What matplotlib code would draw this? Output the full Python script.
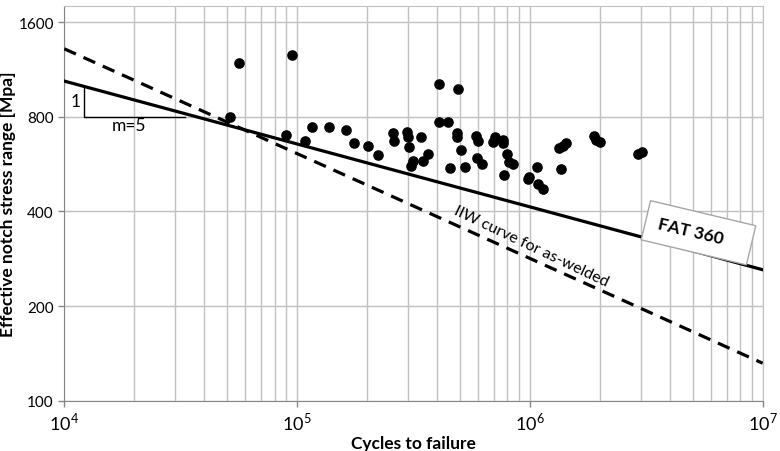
import numpy as np
import matplotlib.pyplot as plt

plt.rcParams['font.family'] = ['Lato', 'DejaVu Sans']
plt.rcParams['mathtext.fontset'] = 'custom'
plt.rcParams['mathtext.rm'] = 'Lato'

# test results: cycles to failure and effective notch stress range [MPa]
cycles = [56290, 95370, 51490, 89860, 107800, 116200, 137100, 162200, 176100,
          201100, 221900, 258900, 260700, 297500, 299500, 339600, 303400,
          315600, 308600, 363900, 348500, 406900, 443700, 408100, 489700,
          487700, 484900, 504400, 455000, 524800, 586800, 596800, 594400,
          620900, 708300, 696500, 764100, 768600, 794900, 815600, 848500,
          777800, 1069600, 978600, 994100, 1080000, 1142000, 1360000,
          1334000, 1383000, 1429000, 1891000, 1923000, 2000000, 2922000,
          3022000]
stress = [1190, 1258, 800, 698, 669, 741, 741, 725, 658, 645, 605, 710, 671,
          718, 688, 689, 639, 579, 559, 608, 579, 771, 771, 1016, 977, 708,
          688, 628, 550, 554, 696, 671, 590, 568, 688, 663, 674, 658, 611,
          575, 568, 524, 552, 507, 513, 489, 473, 545, 634, 647, 658, 696,
          676, 666, 608, 619]

# design curves (FAT at 2e6 cycles, slope m)
fat_enr, m_enr = 360, 5
fat_iiw, m_iiw = 225, 3
n_line = np.array([1e4, 1e7])

def sn(n, fat, m):
    return fat * (2e6 / n) ** (1.0 / m)

fig = plt.figure(figsize=(7.8, 4.52), dpi=100)
ax = fig.add_axes([0.0824, 0.1113, 0.8954, 0.8732])

grid_c = '#c0c0c0'
ax.set_xscale('log')
ax.set_yscale('log', base=2)
ax.set_xlim(1e4, 1e7)
ax.set_ylim(100, 1800)

ax.plot(n_line, sn(n_line, fat_iiw, m_iiw), color='black', lw=2.3,
        dashes=(4, 2.6), zorder=3)
ax.plot(n_line, sn(n_line, fat_enr, m_enr), color='black', lw=2.3, zorder=3)
ax.scatter(cycles, stress, s=44, color='black', zorder=4)

# slope triangle
n_a, n_b, s_base = 1.22e4, 3.3e4, 800
ax.plot([n_a, n_a, n_b], [sn(n_a, fat_enr, m_enr), s_base, s_base],
        color='black', lw=1.0, zorder=3)
ax.text(1.12e4, 900, '1', fontsize=12.5, ha='center', va='center')
ax.text(1.9e4, 755, 'm=5', fontsize=12.5, ha='center', va='center')

ax.text(1.01e6, 310, 'IIW curve for as-welded', fontsize=11.5,
        rotation=-25.5, ha='center', va='center', rotation_mode='anchor')
ax.text(5.3e6, 342, 'FAT 360    ', fontsize=12.5, fontweight='bold',
        rotation=-13.4, ha='center', va='center', rotation_mode='anchor',
        bbox=dict(boxstyle='square,pad=0.7', fc='white', ec='#a6a6a6', lw=1))

ax.set_yticks([100, 200, 400, 800, 1600])
ax.set_yticklabels(['100', '200', '400', '800', '1600'])
ax.set_xticks([1e4, 1e5, 1e6, 1e7])
ax.set_xticklabels([r'$10^4$', r'$10^5$', r'$10^6$', r'$10^7$'])
ax.yaxis.set_minor_locator(plt.NullLocator())
ax.tick_params(axis='both', which='major', labelsize=11, length=4,
               color='#868686', width=1)
ax.tick_params(axis='x', which='major', labelsize=13, pad=3)
ax.tick_params(axis='x', which='minor', length=0)

ax.grid(True, which='major', axis='y', color=grid_c, lw=1)
ax.grid(True, which='both', axis='x', color=grid_c, lw=1)
ax.set_axisbelow(True)

for side in ['top', 'right']:
    ax.spines[side].set_color(grid_c)
for side in ['left', 'bottom']:
    ax.spines[side].set_color('#868686')

ax.set_xlabel('Cycles to failure', fontsize=12.5, fontweight='bold', labelpad=2)
ax.set_ylabel('Effective notch stress range [Mpa]', fontsize=12.5,
              fontweight='bold', labelpad=2)

fig.savefig('out.png', dpi=100)
